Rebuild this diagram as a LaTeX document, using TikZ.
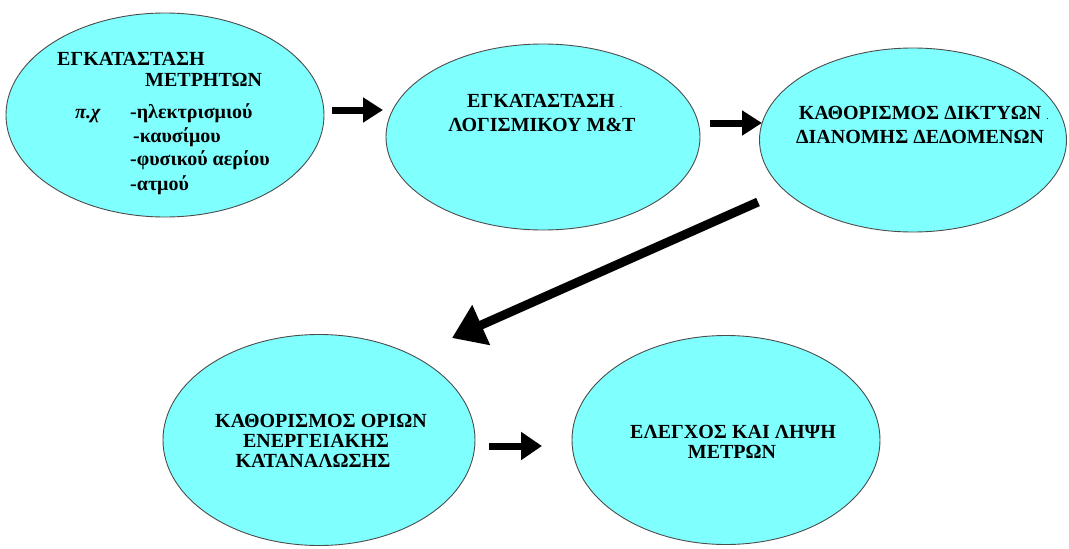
\documentclass[tikz,border=0pt]{standalone}
\usepackage{fontspec}
\setmainfont{Liberation Serif}
\usetikzlibrary{shapes.geometric,arrows.meta}
\definecolor{stagefill}{HTML}{80FFFF}
\begin{document}
\begin{tikzpicture}[x=1pt,y=-1pt,
  stage/.style={ellipse,draw=black!70,line width=0.9pt,fill=stagefill,inner sep=0pt},
  caps/.style={inner sep=0pt,font=\bfseries\fontsize{20}{24}\selectfont},
  small/.style={inner sep=0pt,font=\bfseries\fontsize{20}{24}\selectfont},
  flow/.style={line width=7pt,-{Triangle[length=20pt,width=24pt]}},
  bigflow/.style={line width=9pt,-{Triangle[length=32pt,width=42pt]}}]
\useasboundingbox[fill=white] (0,0) rectangle (1069,549);

% the five stages
\node[stage,minimum width=318pt,minimum height=204pt] (e1) at (165,115) {};
\node[stage,minimum width=314pt,minimum height=186pt] (e2) at (543,137) {};
\node[stage,minimum width=307pt,minimum height=184pt] (e3) at (913,140) {};
\node[stage,minimum width=312pt,minimum height=211pt] (e4) at (319,440) {};
\node[stage,minimum width=308pt,minimum height=209pt] (e5) at (726,440) {};

% stage 1: meters
\node[caps,anchor=base west] (t1a) at (57,65) {ΕΓΚΑΤΑΣΤΑΣΗ};
\node[caps,anchor=base west] (t1b) at (145,86) {ΜΕΤΡΗΤΩΝ};
\node[small,anchor=base west,font=\bfseries\itshape\fontsize{20}{24}\selectfont] (t1c) at (75,118) {π.χ};
\node[small,anchor=base west] (t1d) at (130,118) {-ηλεκτρισμιού};
\node[small,anchor=base west] (t1e) at (133,142) {-καυσίμου};
\node[small,anchor=base west] (t1f) at (130,165) {-φυσικού αερίου};
\node[small,anchor=base west] (t1g) at (130,190) {-ατμού};

% stage 2: software
\node[caps,anchor=base] (t2a) at (541,107) {ΕΓΚΑΤΑΣΤΑΣΗ\rlap{\mdseries\fontsize{10}{10}\selectfont\ \ .}};
\node[caps,anchor=base] (t2b) at (542,131) {ΛΟΓΙΣΜΙΚΟΥ Μ\&Τ};

% stage 3: data network
\node[caps,anchor=base] (t3a) at (920,119) {ΚΑΘΟΡΙΣΜΟΣ ΔΙΚΤΎΩΝ\rlap{\mdseries\fontsize{10}{10}\selectfont\ \ .}};
\node[caps,anchor=base] (t3b) at (920,143) {ΔΙΑΝΟΜΗΣ ΔΕΔΟΜΕΝΩΝ};

% stage 4: consumption limits
\node[caps,anchor=base] (t4a) at (321,427) {ΚΑΘΟΡΙΣΜΟΣ ΟΡΙΩΝ};
\node[caps,anchor=base] (t4b) at (316,447) {ΕΝΕΡΓΕΙΑΚΗΣ};
\node[caps,anchor=base] (t4c) at (313,467) {ΚΑΤΑΝΑΛΩΣΗΣ};

% stage 5: control
\node[caps,anchor=base] (t5a) at (733,438) {ΕΛΕΓΧΟΣ ΚΑΙ ΛΗΨΗ};
\node[caps,anchor=base] (t5b) at (732,458) {ΜΕΤΡΩΝ};

% arrow end points
\coordinate (a1s) at (332,110);
\coordinate (a1e) at (383,110);
\coordinate (a2s) at (710,123);
\coordinate (a2e) at (762,123);
\coordinate (a3s) at (758,202);
\coordinate (a3e) at (452,338);
\coordinate (a4s) at (489,446);
\coordinate (a4e) at (542,446);

\draw[flow] (a1s) -- (a1e);
\draw[flow] (a2s) -- (a2e);
\draw[bigflow] (a3s) -- (a3e);
\draw[flow,-{Triangle[length=21pt,width=27pt]}] (a4s) -- (a4e);
\end{tikzpicture}
\end{document}
